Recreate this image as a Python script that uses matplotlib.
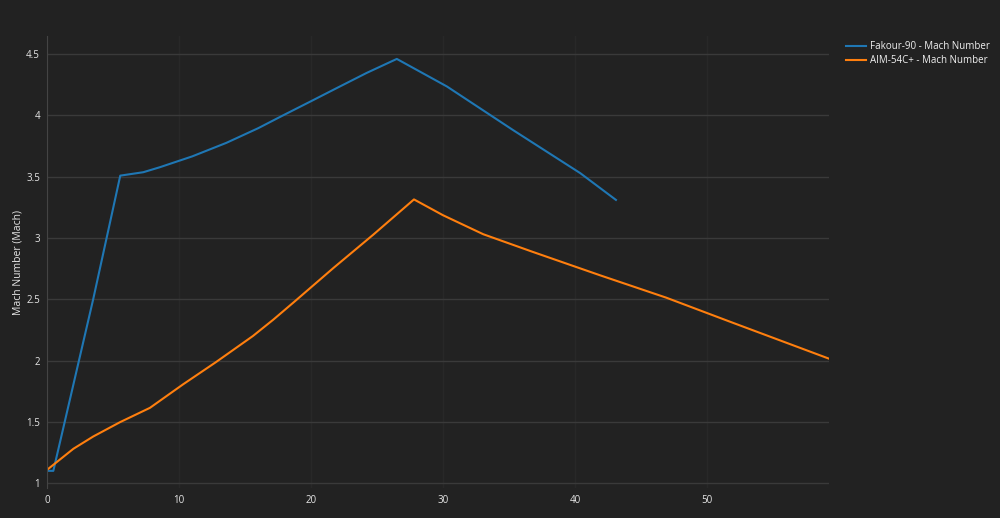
import matplotlib
matplotlib.use("Agg")
import matplotlib.pyplot as plt

plt.rcParams["font.family"] = ["Open Sans", "DejaVu Sans"]

fakour_x = [0.0, 0.48, 3.5, 5.55, 7.3, 8.56, 11.0, 13.6, 16.0, 17.8, 20.0, 22.0, 24.2, 26.5,
            30.3, 35.3, 40.4, 43.1]
fakour_y = [1.10, 1.10, 2.50, 3.508, 3.536, 3.577, 3.665, 3.776, 3.895, 3.995, 4.115, 4.225, 4.345, 4.46,
            4.235, 3.88, 3.528, 3.31]

aim_x = [0.0, 2.0, 3.5, 5.53, 7.8, 10.3, 12.8, 15.6, 17.14, 18.7, 21.7, 24.7, 27.8,
         30.0, 33.05, 36.8, 41.9, 46.9, 52.0, 59.24]
aim_y = [1.108, 1.28, 1.38, 1.497, 1.614, 1.805, 1.987, 2.20, 2.333, 2.476, 2.755, 3.025, 3.314,
         3.185, 3.03, 2.886, 2.695, 2.513, 2.306, 2.015]

series_names = ["Fakour-90 - Mach Number", "AIM-54C+ - Mach Number"]
x_ticks = [0, 10, 20, 30, 40, 50]
y_ticks = [1, 1.5, 2, 2.5, 3, 3.5, 4, 4.5]
y_tick_labels = ["1", "1.5", "2", "2.5", "3", "3.5", "4", "4.5"]
y_title = "Mach Number (Mach)"

bg = "#222222"
fig = plt.figure(figsize=(10, 5.18), dpi=100, facecolor=bg)
ax = fig.add_axes([0.047, 0.0579, 0.782, 0.8726], facecolor=bg)

ax.plot(fakour_x, fakour_y, color="#1f77b4", lw=1.5, label=series_names[0])
ax.plot(aim_x, aim_y, color="#ff7f0e", lw=1.5, label=series_names[1])

ax.set_xlim(0, 59.24)
ax.set_ylim(0.96, 4.647)
ax.set_xticks(x_ticks)
ax.set_yticks(y_ticks)
ax.set_yticklabels(y_tick_labels)

ax.grid(axis="y", color="#3a3a3a", lw=1)
ax.grid(axis="x", color="#282828", lw=1)
ax.set_axisbelow(True)
for s in ["top", "right", "bottom"]:
    ax.spines[s].set_visible(False)
ax.spines["left"].set_color("#444444")
ax.tick_params(colors="#e6e6e6", labelsize=7, length=0, pad=5)

ax.set_ylabel(y_title, color="#e6e6e6", fontsize=7.5)
ax.yaxis.set_label_coords(-0.03, 0.5)

leg = fig.legend(loc="upper left", bbox_to_anchor=(0.846, 1 - 41 / 518), frameon=False,
                 fontsize=7, handlelength=2.1, handletextpad=0.4, labelspacing=0.35,
                 borderaxespad=0, borderpad=0)
for t in leg.get_texts():
    t.set_color("#f0f0f0")

fig.savefig("out.png", dpi=100, facecolor=bg)
